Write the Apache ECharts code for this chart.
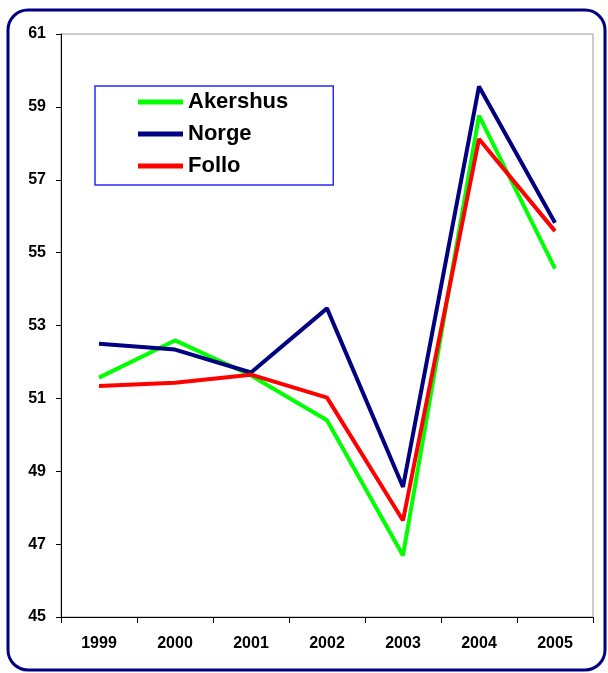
<!DOCTYPE html>
<html><head><meta charset="utf-8">
<script src="https://cdn.jsdelivr.net/npm/echarts@6/dist/echarts.min.js"></script>
<style>html,body{margin:0;padding:0;background:#fff}#c{width:608px;height:673px}</style>
</head><body><div id="c"></div>
<script>
const years = ['1999','2000','2001','2002','2003','2004','2005'];
const akershus = [51.57, 52.59, 51.63, 50.40, 46.69, 58.76, 54.56];
const norge    = [52.50, 52.34, 51.71, 53.47, 48.57, 59.56, 55.82];
const follo    = [51.34, 51.43, 51.65, 51.02, 47.65, 58.12, 55.59];
const yMin = 45, yMax = 61, yStep = 2;

const font = '"Liberation Sans", Arial, sans-serif';
const chart = echarts.init(document.getElementById('c'), null, {renderer:'canvas'});
function s(name, data, color){
  return {name, type:'line', data, symbol:'none', smooth:false,
    lineStyle:{color, width:4}, itemStyle:{color}, animation:false};
}
chart.setOption({
  animation:false,
  backgroundColor:'#fff',
  graphic:[{type:'rect', shape:{x:8, y:10, width:597, height:660, r:20},
    style:{fill:'none', stroke:'#000080', lineWidth:3}, z:-1}],
  grid:{left:61, top:34, right:15, bottom:56, show:true, borderColor:'#999', borderWidth:1, backgroundColor:'transparent'},
  legend:{
    orient:'vertical', left:95, top:86,
    data:['Akershus','Norge','Follo'],
    icon:'rect', itemWidth:45, itemHeight:5, itemGap:6,
    padding:[3,45,6,43],
    borderColor:'#2a2aff', borderWidth:1.5,
    textStyle:{fontFamily:font, fontWeight:'bold', fontSize:22, color:'#000', lineHeight:26},
    selectedMode:false
  },
  xAxis:{type:'category', data:years, boundaryGap:true,
    axisLine:{lineStyle:{color:'#000', width:1}},
    axisTick:{show:true, length:6, lineStyle:{color:'#000'}},
    axisLabel:{fontFamily:font, fontWeight:'bold', fontSize:16, color:'#000', margin:19},
    splitLine:{show:false}},
  yAxis:{type:'value', min:yMin, max:yMax, interval:yStep,
    axisLine:{show:true, lineStyle:{color:'#000', width:1}},
    axisTick:{show:true, length:5, lineStyle:{color:'#000'}},
    axisLabel:{fontFamily:font, fontWeight:'bold', fontSize:16, color:'#000', margin:15},
    splitLine:{show:false}},
  series:[s('Akershus', akershus, '#00ff00'), s('Norge', norge, '#000080'), s('Follo', follo, '#ff0000')]
});
</script></body></html>
